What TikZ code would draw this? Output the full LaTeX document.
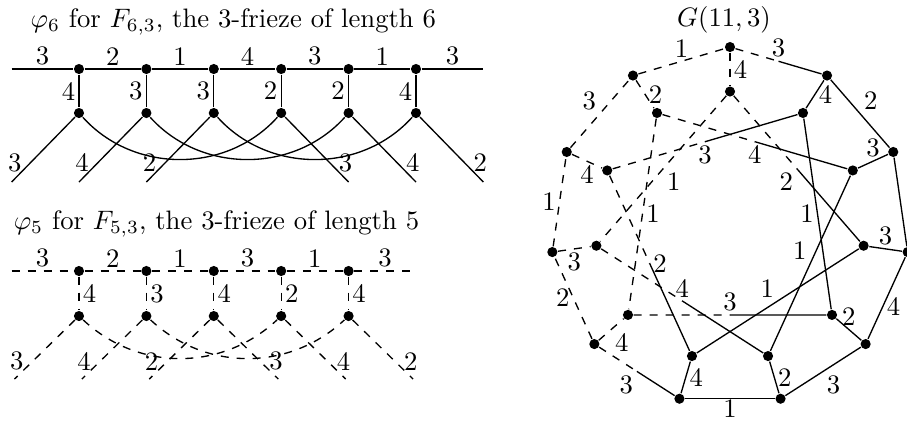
\documentclass[tikz,border=0pt]{standalone}
\usepackage{amsmath}
\usepackage{tikz}
\usetikzlibrary{calc}
\tikzset{
  vtx/.style={circle,fill=black,inner sep=0pt,minimum size=3.8pt},
  lab/.style={inner sep=1.2pt},
  arcsix/.style={out=-48,in=-132},
  arcfive/.style={out=-43,in=-137}
}
% edge that is dashed from #1 to the middle and solid from there to #2
\newcommand{\halfdash}[4]{%
  \coordinate (hm) at ($(#1)!.5!(#2)$);
  \draw[dashed] (#1) -- (hm);
  \draw (hm) -- (#2);
  \path (#1) -- node[lab,#3]{#4} (#2);
}

\begin{document}
\begin{tikzpicture}[x=8.88mm,y=8.88mm,line width=.5pt]
\useasboundingbox (0,0) rectangle (13.457,-6.246);

% phi_6, solid
\begin{scope}[shift={(0.172,-1.024)}]
\node[anchor=base] (t6) at (3.29,.62) {$\varphi_6$ for $F_{6,3}$, the 3-frieze of length 6};
\foreach \i in {1,...,6} {
  \node[vtx] (a\i) at (\i,0) {};
  \node[vtx] (b\i) at (\i,-.653) {};
}
\coordinate (al) at (0,0);
\coordinate (ar) at (7,0);
\draw (al) -- node[lab,above]{3} (a1) -- node[lab,above]{2} (a2) -- node[lab,above]{1} (a3)
  -- node[lab,above]{4} (a4) -- node[lab,above]{3} (a5) -- node[lab,above]{1} (a6)
  -- node[lab,above]{3} (ar);
\foreach \i/\l in {1/4,2/3,3/3,4/2,5/2,6/4}
  \draw (a\i) -- node[lab,left]{\l} (b\i);
\foreach \i/\l in {1/3,2/4,3/2} {
  \coordinate (e\i) at ({\i-1},-1.677);
  \draw (b\i) -- node[lab,left=2pt,pos=.7]{\l} (e\i);
}
\foreach \i/\l in {4/3,5/4,6/2} {
  \coordinate (e\i) at ({\i+1},-1.677);
  \draw (b\i) -- node[lab,right=2pt,pos=.7]{\l} (e\i);
}
\draw (b1) to[arcsix] (b4);
\draw (b2) to[arcsix] (b5);
\draw (b3) to[arcsix] (b6);
\end{scope}

% phi_5, dashed
\begin{scope}[shift={(0.172,-4.021)},dashed]
\node[anchor=base] (t5) at (3.04,.609) {$\varphi_5$ for $F_{5,3}$, the 3-frieze of length 5};
\foreach \i in {1,...,5} {
  \node[vtx] (p\i) at (\i,0) {};
  \node[vtx] (q\i) at (\i,-.668) {};
}
\coordinate (pl) at (0,0);
\coordinate (pr) at (6,0);
\draw (pl) -- node[lab,above]{3} (p1) -- node[lab,above]{2} (p2) -- node[lab,above]{1} (p3)
  -- node[lab,above]{3} (p4) -- node[lab,above]{1} (p5) -- node[lab,above]{3} (pr);
\foreach \i/\l in {1/4,2/3,3/4,4/2,5/4}
  \draw (p\i) -- node[lab,right]{\l} (q\i);
\foreach \i/\l in {1/3,2/4,3/2} {
  \coordinate (f\i) at ({\i-.957},-1.603);
  \draw (q\i) -- node[lab,left=2pt,pos=.7]{\l} (f\i);
}
\foreach \i/\l in {3/3,4/4,5/2} {
  \coordinate (g\i) at ({\i+.957},-1.603);
  \draw (q\i) -- node[lab,right=2pt,pos=.7]{\l} (g\i);
}
\draw (q1) to[arcfive] (q4);
\draw (q2) to[arcfive] (q5);
\end{scope}

% G(11,3)
\begin{scope}[shift={(10.831,-3.361)}]
\node[anchor=base] (tg) at (-.089,2.961) {$G(11,3)$};
\foreach \k in {0,...,10} {
  \node[vtx] (o\k) at ({90-\k*360/11}:2.663) {};
  \node[vtx] (i\k) at ({90-\k*360/11}:2.003) {};
}
% outer cycle
\halfdash{o0}{o1}{above}{3}
\draw (o1) -- node[lab,above right]{2} (o2);
\draw (o2) -- (o3);
\draw (o3) -- node[lab,right,pos=.6]{4} (o4);
\draw (o4) -- node[lab,below right]{3} (o5);
\draw (o5) -- node[lab,below,inner sep=.3pt]{1} (o6);
\halfdash{o7}{o6}{below left}{3}
\draw[dashed] (o7) -- node[lab,left]{2} (o8);
\draw[dashed] (o8) -- node[lab,left]{1} (o9);
\draw[dashed] (o9) -- node[lab,above left]{3} (o10);
\draw[dashed] (o10) -- node[lab,above]{1} (o0);
% spokes
\draw[dashed] (o0) -- node[lab,right]{4} (i0);
\draw (o1) -- node[lab,right]{4} (i1);
\draw (o2) -- node[lab,above]{3} (i2);
\draw (o3) -- node[lab,above]{3} (i3);
\draw (o4) -- node[lab,above]{2} (i4);
\draw (o5) -- node[lab,right]{2} (i5);
\draw (o6) -- node[lab,right]{4} (i6);
\draw[dashed] (o7) -- node[lab,below right]{4} (i7);
\draw[dashed] (o8) -- node[lab,below]{3} (i8);
\draw[dashed] (o9) -- node[lab,below]{4} (i9);
\draw[dashed] (o10) -- node[lab,right]{2} (i10);
% inner star
\draw[dashed] (i0) -- node[lab,below right]{1} (i8);
\halfdash{i0}{i3}{below left}{2}
\draw (i1) -- node[lab,left]{1} (i4);
\halfdash{i9}{i1}{below}{3}
\halfdash{i10}{i2}{below}{4}
\draw (i2) -- node[lab,above left]{1} (i5);
\draw (i3) -- node[lab,above left]{1} (i6);
\halfdash{i7}{i4}{above}{3}
\halfdash{i8}{i5}{above}{4}
\halfdash{i9}{i6}{right}{2}
\draw[dashed] (i10) -- node[lab,right]{1} (i7);
\end{scope}
\end{tikzpicture}
\end{document}
